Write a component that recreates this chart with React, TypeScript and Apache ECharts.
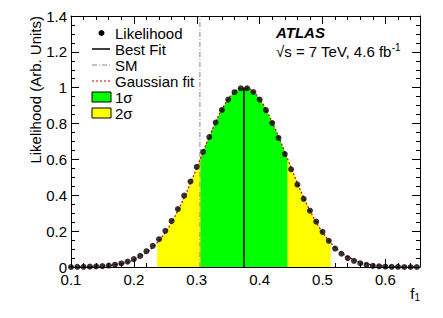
import React, { useEffect, useRef } from "react";
import * as echarts from "echarts";

// x values (f1)
const F1 = [
  0.10, 0.11, 0.12, 0.13, 0.14, 0.15, 0.16, 0.17, 0.18, 0.19,
  0.20, 0.21, 0.22, 0.23, 0.24, 0.25, 0.26, 0.27, 0.28, 0.29,
  0.30, 0.31, 0.32, 0.33, 0.34, 0.35, 0.36, 0.37, 0.38, 0.39,
  0.40, 0.41, 0.42, 0.43, 0.44, 0.45, 0.46, 0.47, 0.48, 0.49,
  0.50, 0.51, 0.52, 0.53, 0.54, 0.55, 0.56, 0.57, 0.58, 0.59,
  0.60, 0.61, 0.62, 0.63, 0.64, 0.65,
];

// Likelihood points
const LIKELIHOOD = [
  0.000, 0.001, 0.001, 0.002, 0.003, 0.005, 0.008, 0.013, 0.020, 0.030,
  0.044, 0.062, 0.088, 0.118, 0.155, 0.202, 0.257, 0.323, 0.398, 0.477,
  0.558, 0.642, 0.725, 0.806, 0.876, 0.934, 0.975, 0.997, 0.997, 0.976,
  0.934, 0.875, 0.803, 0.720, 0.630, 0.545, 0.460, 0.380, 0.314, 0.253,
  0.196, 0.146, 0.103, 0.074, 0.050, 0.034, 0.021, 0.012, 0.006, 0.004,
  0.002, 0.001, 0.001, 0.000, 0.000, 0.000,
];

// Gaussian fit curve
const GAUSS_FIT = [
  0.0004, 0.0006, 0.0011, 0.0018, 0.0030, 0.0049, 0.0078, 0.0121, 0.0184, 0.0275,
  0.0401, 0.0573, 0.0802, 0.1099, 0.1475, 0.1938, 0.2494, 0.3141, 0.3876, 0.4682,
  0.5539, 0.6417, 0.7278, 0.8084, 0.8793, 0.9365, 0.9767, 0.9974, 0.9974, 0.9767,
  0.9365, 0.8793, 0.8084, 0.7278, 0.6417, 0.5539, 0.4682, 0.3876, 0.3141, 0.2494,
  0.1938, 0.1475, 0.1099, 0.0802, 0.0573, 0.0401, 0.0275, 0.0184, 0.0121, 0.0078,
  0.0049, 0.0030, 0.0018, 0.0011, 0.0006, 0.0004,
];

const BEST_FIT = 0.375;
const BEST_FIT_HEIGHT = 1.0;
const SM_VALUE = 0.305;
const SIGMA1 = [0.306, 0.444];
const SIGMA1_EDGE = 0.607;
const SIGMA2 = [0.237, 0.513];
const SIGMA2_EDGE = 0.135;

const X_TICKS = [0.1, 0.2, 0.3, 0.4, 0.5, 0.6];
const Y_TICKS = [0, 0.2, 0.4, 0.6, 0.8, 1, 1.2, 1.4];

const FONT = "'Liberation Sans', Arial, Helvetica, sans-serif";

function band(range: number[], edge: number) {
  const pts: number[][] = [[range[0], edge]];
  F1.forEach((x, i) => {
    if (x > range[0] && x < range[1]) pts.push([x, GAUSS_FIT[i]]);
  });
  pts.push([range[1], edge]);
  return pts;
}

export default function App() {
  const ref = useRef<HTMLDivElement>(null);
  useEffect(() => {
    if (!ref.current) return;
    const chart = echarts.init(ref.current, undefined, { renderer: "svg" });

    const axisCommon = {
      axisLine: { show: true, onZero: false, lineStyle: { color: "#000", width: 1 } },
      axisTick: { show: true, inside: true, length: 8, lineStyle: { color: "#000" } },
      minorTick: { show: true, length: 4, lineStyle: { color: "#000" } },
      splitLine: { show: false },
      minorSplitLine: { show: false },
    };

    const xBase = {
      type: "value",
      min: X_TICKS[0],
      max: 0.655,
      interval: 0.1,
      ...axisCommon,
      minorTick: { ...axisCommon.minorTick, splitNumber: 5 },
    };
    const yBase = {
      type: "value",
      min: Y_TICKS[0],
      max: Y_TICKS[Y_TICKS.length - 1],
      interval: 0.2,
      ...axisCommon,
      minorTick: { ...axisCommon.minorTick, splitNumber: 4 },
    };

    const legendX = 92;
    const legendTextX = 115;
    const rows = [33, 49, 65, 81, 97, 113];

    chart.setOption({
      animation: false,
      backgroundColor: "#fff",
      grid: { left: 71, right: 23, top: 16, bottom: 51, containLabel: false },
      xAxis: [
        {
          ...xBase,
          position: "bottom",
          axisLabel: {
            show: true,
            color: "#000",
            fontSize: 15,
            fontFamily: FONT,
            margin: 5,
            showMaxLabel: false,
            formatter: (v: number) => (v > 0.65 ? "" : String(Math.round(v * 10) / 10)),
          },
        },
        { ...xBase, position: "top", axisLabel: { show: false } },
      ],
      yAxis: [
        {
          ...yBase,
          position: "left",
          axisLabel: {
            show: true,
            color: "#000",
            fontSize: 15,
            fontFamily: FONT,
            margin: 4,
            formatter: (v: number) => String(Math.round(v * 10) / 10),
          },
        },
        { ...yBase, position: "right", axisLabel: { show: false } },
      ],
      series: [
        {
          name: "2σ",
          type: "line",
          data: band(SIGMA2, SIGMA2_EDGE),
          showSymbol: false,
          symbol: "none",
          lineStyle: { width: 0 },
          areaStyle: { color: "#ffff00", opacity: 1 },
          z: 1,
        },
        {
          name: "1σ",
          type: "line",
          data: band(SIGMA1, SIGMA1_EDGE),
          showSymbol: false,
          symbol: "none",
          lineStyle: { width: 0 },
          areaStyle: { color: "#00ff00", opacity: 1 },
          z: 2,
        },
        {
          name: "Best Fit",
          type: "line",
          data: [[BEST_FIT, 0], [BEST_FIT, BEST_FIT_HEIGHT]],
          symbol: "none",
          lineStyle: { color: "#000", width: 1.5 },
          z: 3,
        },
        {
          name: "SM",
          type: "line",
          data: [[SM_VALUE, 0], [SM_VALUE, Y_TICKS[Y_TICKS.length - 1]]],
          symbol: "none",
          lineStyle: { color: "#888", width: 1, type: [5, 2, 1, 2] },
          z: 4,
        },
        {
          name: "Gaussian fit",
          type: "line",
          data: F1.map((x, i) => [x, GAUSS_FIT[i]]),
          symbol: "none",
          smooth: true,
          lineStyle: { color: "#cc0000", width: 1.2, type: [2, 2] },
          z: 5,
        },
        {
          name: "Likelihood",
          type: "scatter",
          data: F1.map((x, i) => [x, LIKELIHOOD[i]]),
          symbol: "circle",
          symbolSize: 6,
          itemStyle: { color: "#000" },
          z: 6,
        },
      ],
      graphic: [
        // y-axis title
        {
          type: "text",
          x: 35,
          y: 16,
          rotation: Math.PI / 2,
          style: {
            text: "Likelihood (Arb. Units)",
            fontSize: 15,
            fontFamily: FONT,
            fill: "#000",
            align: "right",
            verticalAlign: "middle",
          },
        },
        // x-axis title
        {
          type: "text",
          x: 420,
          y: 293,
          style: {
            text: "{a|f}{b|1}",
            align: "right",
            verticalAlign: "middle",
            rich: {
              a: { fontSize: 15, fontFamily: FONT, fill: "#000" },
              b: { fontSize: 10, fontFamily: FONT, fill: "#000", padding: [8, 0, 0, 0] },
            },
          },
        },
        // ATLAS label
        {
          type: "text",
          x: 276,
          y: 32,
          style: {
            text: "ATLAS",
            fontSize: 15,
            fontWeight: "bold",
            fontStyle: "italic",
            fontFamily: FONT,
            fill: "#000",
            verticalAlign: "middle",
          },
        },
        {
          type: "text",
          x: 276,
          y: 51,
          style: {
            text: "{a|√s = 7 TeV, 4.6 fb}{b|-1}",
            verticalAlign: "middle",
            rich: {
              a: { fontSize: 15, fontFamily: FONT, fill: "#000" },
              b: { fontSize: 10, fontFamily: FONT, fill: "#000", padding: [0, 0, 8, 0] },
            },
          },
        },
        // Legend
        { type: "circle", shape: { cx: 101.5, cy: rows[0], r: 3 }, style: { fill: "#000" } },
        {
          type: "line",
          shape: { x1: legendX, y1: rows[1], x2: 110, y2: rows[1] },
          style: { stroke: "#000", lineWidth: 1.5 },
        },
        {
          type: "line",
          shape: { x1: legendX, y1: rows[2], x2: 110, y2: rows[2] },
          style: { stroke: "#888", lineWidth: 1, lineDash: [5, 2, 1, 2] },
        },
        {
          type: "line",
          shape: { x1: legendX, y1: rows[3], x2: 110, y2: rows[3] },
          style: { stroke: "#cc0000", lineWidth: 1.2, lineDash: [2, 2] },
        },
        {
          type: "rect",
          shape: { x: legendX, y: rows[4] - 5, width: 19, height: 10 },
          style: { fill: "#00ff00", stroke: "#000", lineWidth: 1 },
        },
        {
          type: "rect",
          shape: { x: legendX, y: rows[5] - 5, width: 19, height: 10 },
          style: { fill: "#ffff00", stroke: "#000", lineWidth: 1 },
        },
        ...["Likelihood", "Best Fit", "SM", "Gaussian fit", "1σ", "2σ"].map((t, i) => ({
          type: "text",
          x: legendTextX,
          y: rows[i],
          style: {
            text: t,
            fontSize: 15,
            fontFamily: FONT,
            fill: "#000",
            verticalAlign: "middle",
          },
        })),
      ],
    });
    return () => chart.dispose();
  }, []);

  return (
    <div
      ref={ref}
      style={{ position: "fixed", left: 0, top: 0, width: 443, height: 318 }}
    />
  );
}
